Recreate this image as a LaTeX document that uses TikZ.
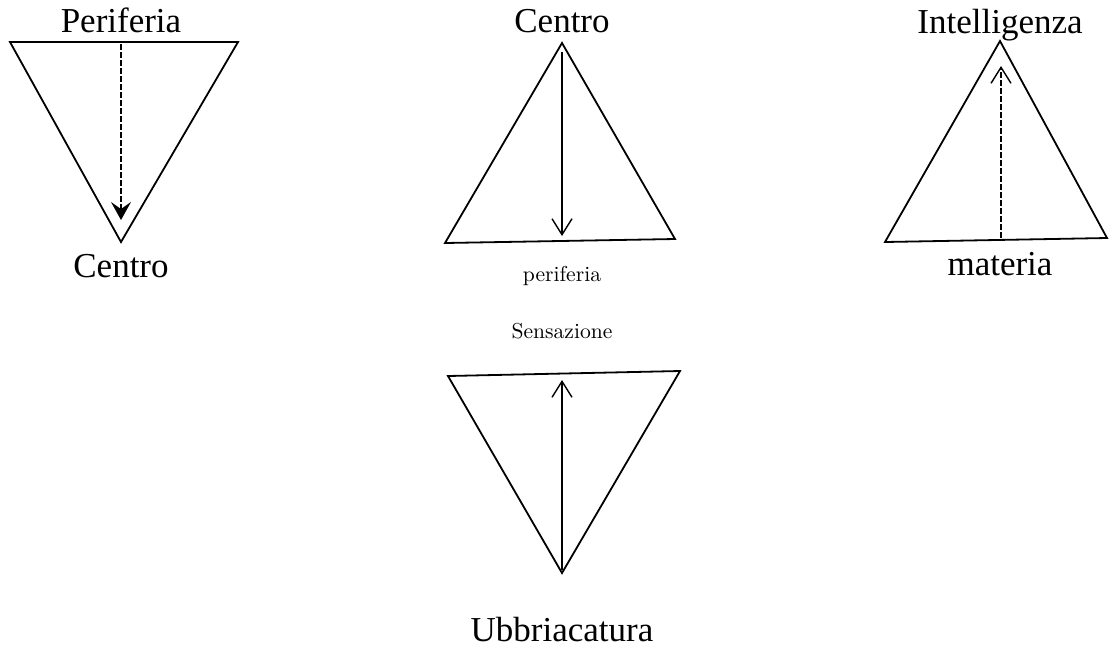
\documentclass[tikz,border=0pt]{standalone}
\usepackage{fontspec}
\newfontfamily\timesfont{Liberation Serif}
\usetikzlibrary{arrows.meta}
\begin{document}
\begin{tikzpicture}[x=0.5pt,y=-0.5pt,
  tri/.style={line width=0.9pt, line join=miter},
  big/.style={font=\timesfont\fontsize{17.5}{20}\selectfont, anchor=base, inner sep=0pt},
  small/.style={font=\fontsize{10.8}{13}\selectfont, anchor=base, inner sep=0pt},
  flow/.style={line width=0.7pt, -{Straight Barb[length=8pt,width=10pt]}},
  dflow/.style={flow, dash pattern=on 3pt off 1pt}]
\useasboundingbox (0,0) rectangle (1109,650);
% labels
\node [big] (per1) at (121,32) {Periferia};
\node [big] (cen1) at (121,277) {Centro};
\node [big] (cen2) at (562,32) {Centro};
\node [small] (per2) at (562,281) {periferia};
\node [big] (int3) at (1000,33) {Intelligenza};
\node [big] (mat3) at (1000,275) {materia};
\node [small] (sen4) at (562,338) {Sensazione};
\node [big] (ubb4) at (562,641) {Ubbriacatura};
% triangles
\draw [tri] (10,42) -- (238,42) -- (121,242) -- cycle;
\draw [tri] (562,43) -- (675,239) -- (445,243) -- cycle;
\draw [tri] (1000,41) -- (1107,238) -- (885,242) -- cycle;
\draw [tri] (448,376) -- (680,371) -- (562,573) -- cycle;
% arrows
\coordinate (a1) at (121,44);  \coordinate (b1) at (121,220);
\coordinate (a2) at (562,52);  \coordinate (b2) at (562,236);
\coordinate (a3) at (1001,238); \coordinate (b3) at (1001,66);
\coordinate (a4) at (562,570); \coordinate (b4) at (562,380);
\draw [dflow, -{Stealth[length=9pt,width=10pt,inset=3.5pt]}] (a1) -- (b1);
\draw [flow] (a2) -- (b2);
\draw [dflow] (a3) -- (b3);
\draw [flow] (a4) -- (b4);
\end{tikzpicture}
\end{document}
